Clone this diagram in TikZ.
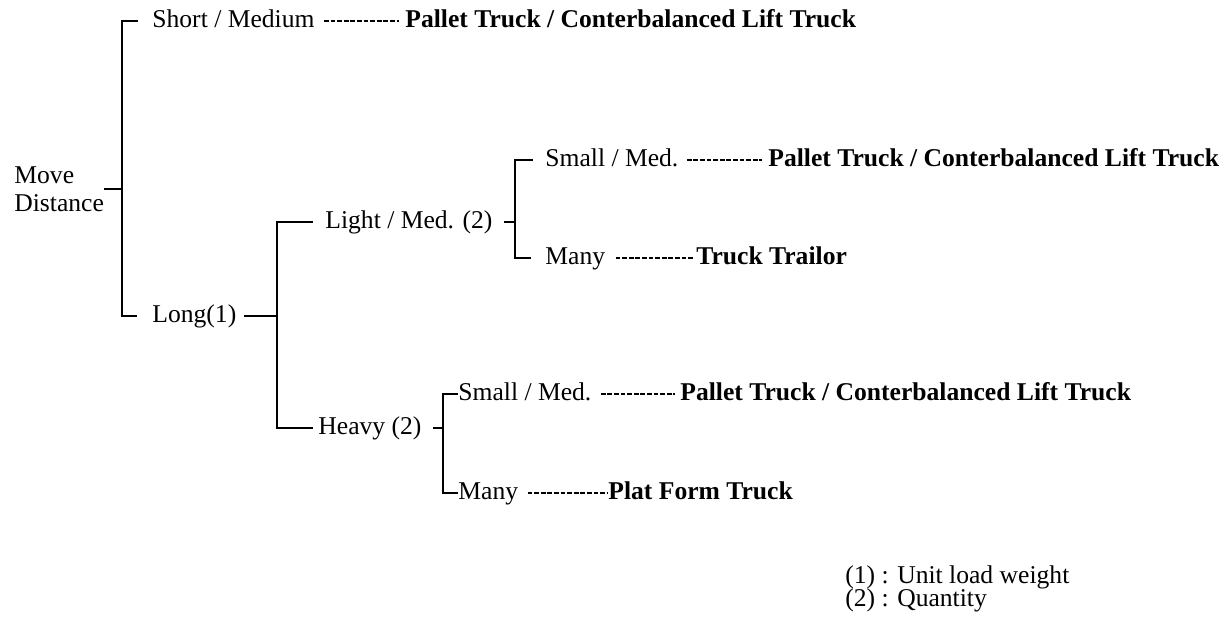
\documentclass[tikz,border=0pt]{standalone}
\usepackage{fontspec}
\setmainfont{Liberation Serif}
\usetikzlibrary{calc}
\tikzset{
  lbl/.style={inner sep=0pt, anchor=west, text height=0.66em, text depth=0pt,
    font=\fontsize{12.8}{14}\selectfont},
  truck/.style={lbl, font=\fontsize{12.8}{14}\selectfont\bfseries},
  dashline/.style={line width=0.9pt, dash pattern=on 2.4pt off 0.9pt},
  brk/.style={line width=1.3pt}
}
\begin{document}
\begin{tikzpicture}[x=0.5pt,y=-0.5pt]
\useasboundingbox (0,0) rectangle (1227,622);
  \node[inner sep=0pt, anchor=west, align=left, font=\fontsize{12.8}{14}\selectfont] (md) at (14,189) {Move\\Distance};
  \node[lbl] (sm) at (152,21) {Short / Medium};
  \node[truck] (pt1) at (405,21) {Pallet Truck / Conterbalanced Lift Truck};
  \node[lbl] (lg) at (152,316) {Long(1)};
  \node[lbl] (lm) at (325,222) {Light / Med. (2)};
  \node[lbl] (hv) at (318,428) {Heavy (2)};
  \node[lbl] (s1) at (545,160) {Small / Med.};
  \node[truck] (pt2) at (768,160) {Pallet Truck / Conterbalanced Lift Truck};
  \node[lbl] (m1) at (545,258) {Many};
  \node[truck] (tt) at (696,258) {Truck Trailor};
  \node[lbl] (s2) at (458,394) {Small / Med.};
  \node[truck] (pt3) at (680,394) {Pallet Truck / Conterbalanced Lift Truck};
  \node[lbl] (m2) at (458,493) {Many};
  \node[truck] (pf) at (608,493) {Plat Form Truck};
  \node[lbl] (n1) at (845,577) {(1) : Unit load weight};
  \node[lbl] (n2) at (845,600) {(2) : Quantity};
  \coordinate (j0) at (122,189);
  \coordinate (j1) at (277,316);
  \coordinate (j2) at (515,222);
  \coordinate (j3) at (443,428);
  \draw[brk] (md.east -| 104,0) -- (j0);
  \draw[brk] ($(sm.west)+(-14,0)$) -| (j0) |- ($(lg.west)+(-15,0)$);
  \draw[brk] ($(lg.east)+(7,0)$) -- (j1);
  \draw[brk] ($(lm.west)+(-12,0)$) -| (j1) |- ($(hv.west)+(-5,0)$);
  \draw[brk] ($(lm.east)+(11,0)$) -- (j2);
  \draw[brk] ($(s1.west)+(-12,0)$) -| (j2) |- ($(m1.west)+(-14,0)$);
  \draw[brk] ($(hv.east)+(11,0)$) -- (j3);
  \draw[brk] (s2.west) -| (j3) |- (m2.west);
  \draw[dashline] ($(sm.east)+(9,0)$) -- ($(pt1.west)+(-6,0)$);
  \draw[dashline] ($(s1.east)+(8,0)$) -- ($(pt2.west)+(-6,0)$);
  \draw[dashline] ($(m1.east)+(10,0)$) -- ($(tt.west)+(-2,0)$);
  \draw[dashline] ($(s2.east)+(9,0)$) -- ($(pt3.west)+(-5,0)$);
  \draw[dashline] ($(m2.east)+(9,0)$) -- ($(pf.west)+(-1,0)$);
\end{tikzpicture}
\end{document}
